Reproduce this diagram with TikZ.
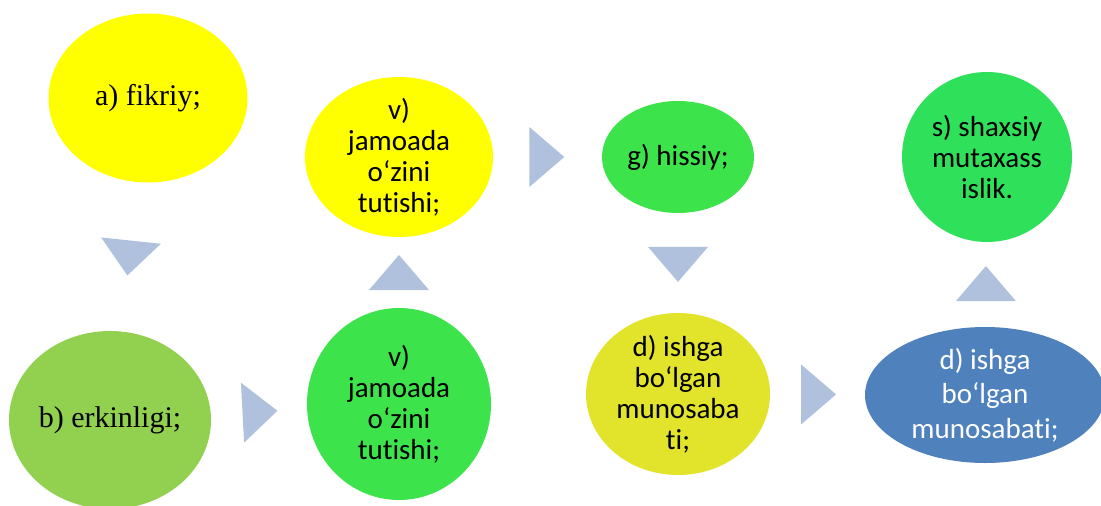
\documentclass[tikz,border=0pt]{standalone}
\usepackage{fontspec}
\setmainfont{Liberation Serif}
\newfontfamily\calibri[Ligatures=NoCommon]{Carlito}
\usetikzlibrary{shapes.geometric,calc}
\definecolor{yel}{HTML}{FFFF00}
\definecolor{lgreen}{HTML}{92D050}
\definecolor{bgreen}{HTML}{3DE34A}
\definecolor{sgreen}{HTML}{2FE05B}
\definecolor{dyel}{HTML}{E2E42B}
\definecolor{dblue}{HTML}{4F81BD}
\definecolor{arrowfill}{HTML}{B0C1DD}

\begin{document}
\begin{tikzpicture}[x=1pt,y=-1pt,
    blob/.style={ellipse,inner sep=-10pt,outer sep=0pt,align=center},
    serif/.style={font=\fontsize{30}{31}\selectfont},
    sans/.style={font=\calibri\fontsize{29}{31}\selectfont},
    arr/.style={fill=arrowfill}]
        \useasboundingbox (0,0) rectangle (1101,506);
        % ellipses
        \node[blob,serif,fill=yel,minimum width=199,minimum height=169] (fik) at (148,98) {a) fikriy;};
        \node[blob,serif,fill=lgreen,minimum width=202,minimum height=178] (erk) at (110,420) {b) erkinligi;};
        \node[blob,sans,fill=bgreen,minimum width=184,minimum height=192] (jam2) at (399,404) {v)\\jamoada\\o‘zini\\tutishi;};
        \node[blob,sans,fill=yel,minimum width=188,minimum height=160] (jam1) at (399,157) {v)\\jamoada\\o‘zini\\tutishi;};
        \node[blob,sans,fill=bgreen,minimum width=152,minimum height=112] (his) at (678,157) {g) hissiy;};
        \node[blob,sans,fill=dyel,minimum width=184,minimum height=162] (ish1) at (678,394) {d) ishga\\bo‘lgan\\munosaba\\ti;};
        \node[blob,sans,fill=dblue,text=white,minimum width=240,minimum height=136,
            font=\calibri\fontsize{29}{34.5}\selectfont] (ish2) at (985,395) {d) ishga\\bo‘lgan\\munosabati;};
        \node[blob,sans,fill=sgreen,minimum width=170,minimum height=170] (sha) at (987,157) {s) shaxsiy\\mutaxass\\islik.};
        % triangles
        \fill[arr,shift={($(fik)!.48!(erk)$)},rotate=-96] (-12,-30) -- (23,0) -- (-12,30) -- cycle;
        \fill[arr,shift={($(erk)!.5!(jam2)$)},rotate=3] (-12,-30) -- (23,0) -- (-12,30) -- cycle;
        \fill[arr,shift={($(jam2)!.51!(jam1)$)},rotate=90] (-12,-30) -- (23,0) -- (-12,30) -- cycle;
        \fill[arr,shift={($(jam1)!.51!(his)$)}] (-12,-30) -- (23,0) -- (-12,30) -- cycle;
        \fill[arr,shift={($(his)!.43!(ish1)$)},rotate=-90] (-12,-30) -- (23,0) -- (-12,30) -- cycle;
        \fill[arr,shift={($(ish1)!.44!(ish2)$)}] (-12,-30) -- (23,0) -- (-12,30) -- cycle;
        \fill[arr,shift={($(ish2)!.445!(sha)$)},rotate=90] (-12,-30) -- (23,0) -- (-12,30) -- cycle;
    \end{tikzpicture}
\end{document}
